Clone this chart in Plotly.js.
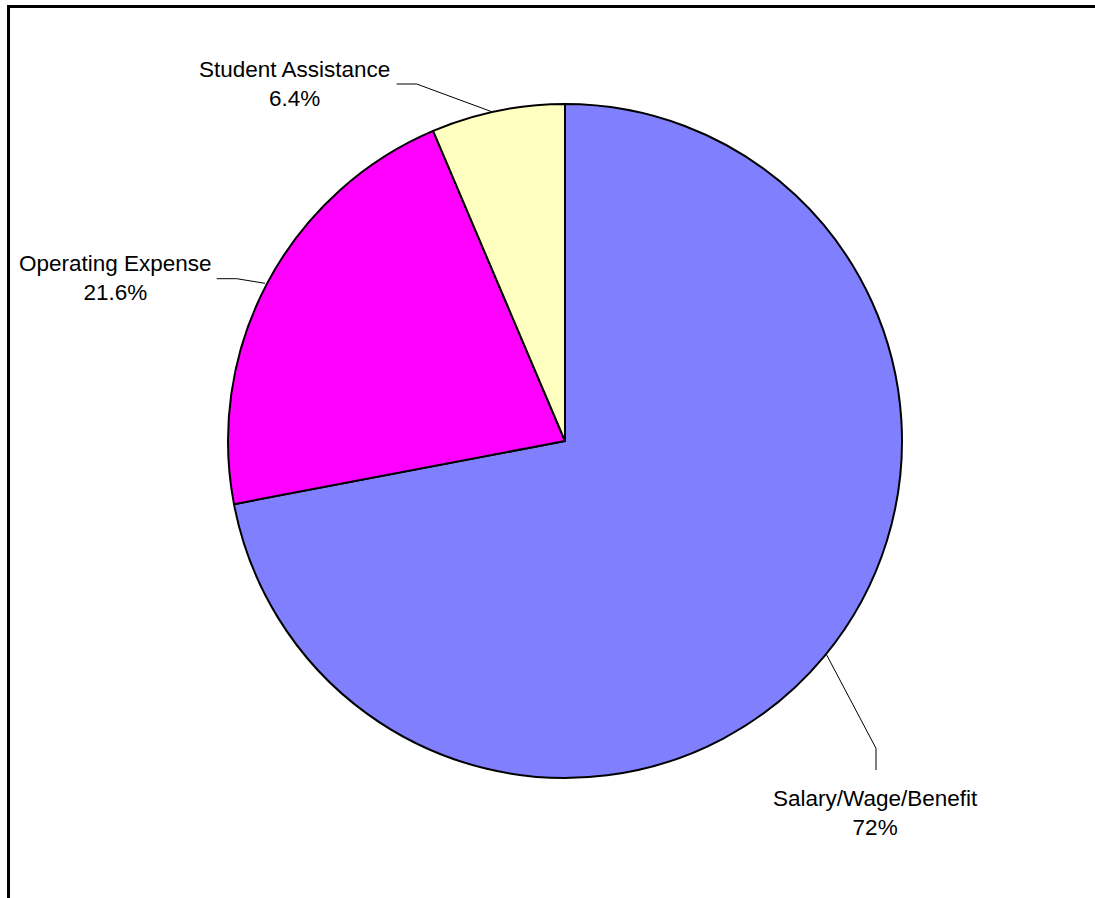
<!DOCTYPE html>
<html>
<head>
<meta charset="utf-8">
<script src="https://cdn.plot.ly/plotly-3.0.1.min.js"></script>
<style>
html,body{margin:0;padding:0;background:#fff;overflow:hidden;}
#wrap{position:relative;width:1095px;height:898px;overflow:hidden;}
#chart{width:1095px;height:898px;}
#frame{position:absolute;left:7px;top:5px;width:2000px;height:2000px;
  border-left:3px solid #000;border-top:3px solid #000;pointer-events:none;}
</style>
</head>
<body>
<div id="wrap">
<div id="chart"></div>
<div id="frame"></div>
</div>
<script>
// ---- data ----
var categories = ["Salary/Wage/Benefit", "Operating Expense", "Student Assistance"];
var values = [72, 21.6, 6.4];
var valueLabels = ["72%", "21.6%", "6.4%"];
var colors = ["#8080FF", "#FF00FF", "#FFFFC0"];

var W = 1095, H = 898;
function px(x){ return x / W; }
function py(y){ return 1 - y / H; }

// pie geometry (pixels)
var cx = 565, cy = 441, R = 337;

// label block centres (pixels) and leader paths (pixels)
var labelPos = [[875.5, 813], [115, 278], [294.5, 84]];
var leaders = [
  [[826.7, 655], [876, 748.3], [876, 770]],
  [[216.7, 278.7], [236.7, 278.7], [265, 283.3]],
  [[396.7, 84], [416.7, 84], [491.7, 111.7]]
];

var trace = {
  type: "pie",
  labels: categories,
  values: values,
  sort: false,
  direction: "clockwise",
  rotation: 0,
  marker: { colors: colors, line: { color: "#000000", width: 2 } },
  textinfo: "none",
  hoverinfo: "label+percent",
  showlegend: false,
  domain: { x: [px(cx - R), px(cx + R)], y: [py(cy + R), py(cy - R)] }
};

var annotations = categories.map(function(c, i){
  return {
    xref: "paper", yref: "paper",
    x: px(labelPos[i][0]), y: py(labelPos[i][1]),
    xanchor: "center", yanchor: "middle",
    text: c + "<br>" + valueLabels[i],
    showarrow: false,
    align: "center",
    font: { family: "Liberation Sans, Arial, sans-serif", size: 22.5, color: "#000" }
  };
});

var shapes = leaders.map(function(pts){
  var d = pts.map(function(p, j){ return (j ? "L" : "M") + px(p[0]) + "," + py(p[1]); }).join(" ");
  return { type: "path", xref: "paper", yref: "paper", path: d,
           line: { color: "#000", width: 1 } };
});

var layout = {
  width: W, height: H,
  margin: { l: 0, r: 0, t: 0, b: 0 },
  paper_bgcolor: "#fff",
  plot_bgcolor: "#fff",
  annotations: annotations,
  shapes: shapes,
  showlegend: false
};

Plotly.newPlot("chart", [trace], layout, { displayModeBar: false, staticPlot: true });
</script>
</body>
</html>
